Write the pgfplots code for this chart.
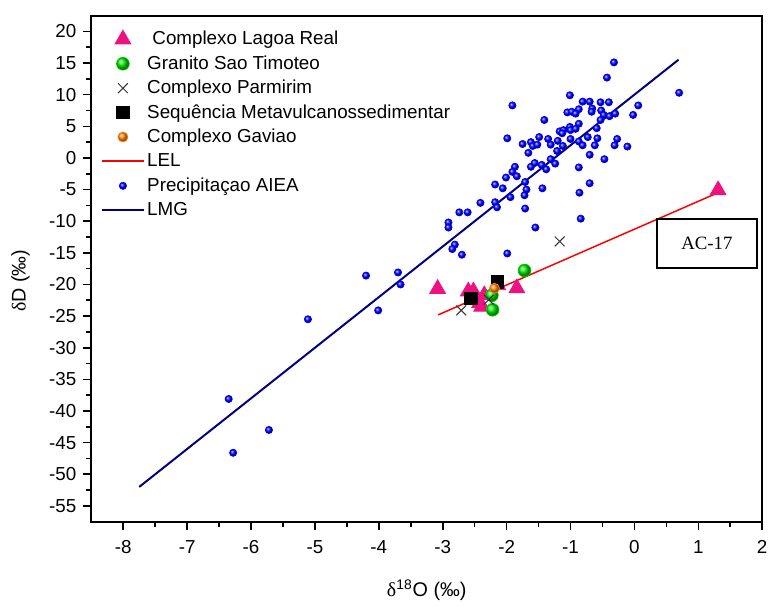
\documentclass[border=0pt]{standalone}
\usepackage{fontspec}
\setmainfont{Liberation Sans}
\newfontfamily\seriffont{Liberation Serif}
\usepackage{pgfplots}
\pgfplotsset{compat=1.18}
\definecolor{lrpink}{RGB}{238,18,128}
\definecolor{gsgreen}{RGB}{0,235,0}
\definecolor{cgorange}{RGB}{255,130,10}
\definecolor{lmgnavy}{RGB}{0,0,128}
\definecolor{lelred}{RGB}{255,0,0}
\begin{document}
\begin{tikzpicture}
\begin{axis}[
  scale only axis,
  width=338bp, height=255bp,
  xmin=-8.5, xmax=2, ymin=-57.5, ymax=22.5,
  xtick={-8,-7,...,2}, ytick={-55,-50,...,20},
  minor x tick num=1, minor y tick num=1,
  tick align=outside, tick pos=left,
  major tick length=4bp, minor tick length=2.5bp,
  axis line style={line width=1bp},
  every tick/.style={black, line width=0.8bp},
  /pgf/number format/assume math mode=true,
  ticklabel style={font=\fontsize{9.5}{11}\selectfont},
  xticklabel style={yshift=-2bp},
  xlabel={{\seriffont δ}\textsuperscript{18}O (‰)},
  ylabel={{\seriffont δ}D (‰)},
  label style={font=\fontsize{10}{12}\selectfont},
  xlabel style={yshift=-6bp},
  ylabel style={at={(ticklabel cs:0.476)}, yshift=3bp},
  legend image code/.code={\draw[mark repeat=2,mark phase=2,#1] plot coordinates {(0bp,0bp) (10.5bp,0bp) (21bp,0bp)};},
  legend style={at={(0.005,0.985)}, anchor=north west, draw=none, fill=none,
    font=\fontsize{9.5}{11}\selectfont, row sep=0.4bp,
    nodes={inner sep=1.2bp, anchor=west, text height=7.5bp, text depth=2bp}},
  legend cell align=left,
]
\addplot[only marks, mark=triangle*, mark size=4.6bp, color=lrpink] coordinates {
(-3.08,-20.7) (-2.60,-21.1) (-2.52,-21.1) (-2.39,-23.5) (-2.35,-21.7)
(-2.42,-22.9) (-1.84,-20.6) (-2.14,-20.1) (1.31,-5.1)
};
\addlegendentry{~Complexo Lagoa Real}
\addplot[only marks, mark=ball, mark size=3.2bp, color=gsgreen!80!black, mark options={ball color=gsgreen, draw=gsgreen!85!black}] coordinates {
(-1.72,-17.8) (-2.22,-24.0) (-2.23,-21.7)
};
\addlegendentry{Granito Sao Timoteo}
\addplot[only marks, mark=x, mark size=3.5bp, color=black!80, line width=0.5bp] coordinates {
(-2.71,-24.1) (-2.28,-22.4) (-1.17,-13.2)
};
\addlegendentry{Complexo Parmirim}
\addplot[only marks, mark=square*, mark size=3.1bp, color=black] coordinates {
(-2.56,-22.2) (-2.14,-19.6)
};
\addlegendentry{Sequência Metavulcanossedimentar}
\addplot[only marks, mark=ball, mark size=2.5bp, color=cgorange, mark options={ball color=cgorange, draw=cgorange}] coordinates {
(-2.19,-20.6)
};
\addlegendentry{Complexo Gaviao}
\addplot[draw=lelred, no marks, line width=0.75bp, forget plot] coordinates {(-3.07,-24.8) (1.33,-5.4)};
\addlegendimage{legend image code/.code={\draw[lelred, line width=1.1bp] (0bp,0bp) -- (21bp,0bp);}}
\addlegendentry{LEL}
\addplot[only marks, mark=ball, mark size=1.8bp, color=blue, mark options={ball color=blue, draw=blue}] coordinates {
(-0.43,12.7) (-0.32,15.1) (0.70,10.3) (-1.91,8.3) (-1.01,9.9) (-0.81,8.9) (-0.70,8.9)
(-0.53,8.8) (-0.40,8.8) (0.06,8.3) (-0.87,7.7) (-0.66,7.8) (-1.05,7.2) (-0.98,7.3)
(-0.92,7.0) (-0.67,7.3) (-0.52,7.5) (-0.48,6.8) (-0.39,6.6) (-0.30,7.0) (-0.02,6.8)
(-1.41,6.0) (-0.53,6.0) (-0.87,5.4) (-1.01,4.9) (-1.17,4.2) (-1.11,4.4) (-1.13,3.9)
(-1.00,4.4) (-0.92,4.6) (-0.59,4.7) (-1.99,3.1) (-1.49,3.3) (-1.35,3.0) (-1.20,2.7)
(-1.00,3.0) (-0.87,2.6) (-0.73,3.3) (-0.58,3.1) (-0.27,3.0) (-1.75,2.2) (-1.62,2.5)
(-1.59,1.9) (-1.52,2.1) (-1.31,2.1) (-1.12,1.9) (-0.81,2.0) (-0.62,2.0) (-0.31,2.0)
(-0.11,1.8) (-1.66,0.8) (-1.21,1.1) (-0.70,0.5) (-0.47,-0.2) (-1.31,-0.2) (-1.87,-1.4)
(-1.62,-1.4) (-1.56,-0.8) (-1.45,-1.1) (-1.38,-1.8) (-1.24,-0.9) (-0.87,-1.5) (-1.91,-2.2)
(-2.01,-3.1) (-1.84,-2.9) (-1.71,-3.8) (-0.70,-4.0) (-2.18,-4.2) (-2.06,-4.8) (-1.69,-5.0)
(-1.44,-4.8) (-1.94,-6.2) (-1.72,-5.9) (-0.86,-5.5) (-2.41,-7.1) (-2.18,-7.0) (-2.15,-7.8)
(-2.61,-8.6) (-1.71,-8.0) (-0.84,-9.6) (-1.55,-11.0) (-1.99,-15.1)
(-2.91,-10.2) (-2.91,-11.0) (-2.74,-8.6) (-2.81,-13.7) (-2.85,-14.4) (-2.70,-15.3)
(-4.20,-18.6) (-3.70,-18.1) (-3.66,-20.0) (-4.01,-24.1) (-5.11,-25.5) (-6.35,-38.1)
(-5.72,-43.0) (-6.28,-46.6)
};
\addlegendentry{Precipitaçao AIEA}
\addplot[color=lmgnavy, no marks, line width=1bp] coordinates {(-7.75,-52) (0.69,15.52)};
\addlegendentry{LMG}
\node[draw, line width=1bp, minimum width=50.6bp, minimum height=24.5bp, inner sep=0pt,
  font=\seriffont\fontsize{9.5}{11}\selectfont] at (axis cs:1.135,-13.57) {AC-17};
\end{axis}
\path ([shift={(-46bp,-38.7bp)}]current axis.south west) rectangle ([shift={(3bp,7.85bp)}]current axis.north east);
\end{tikzpicture}
\end{document}
